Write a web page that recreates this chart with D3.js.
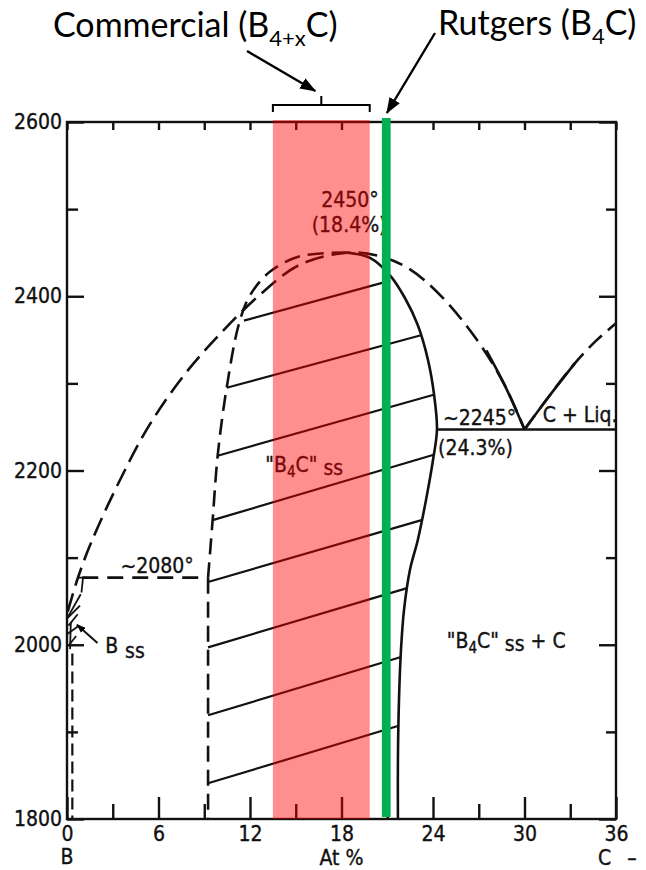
<!doctype html>
<html>
<head>
<meta charset="utf-8">
<title>B-C phase diagram</title>
<script src="https://d3js.org/d3.v7.min.js"></script>
<style>
  body { margin: 0; background: #fff; }
  .lbl { font-family: 'DejaVu Sans Condensed', 'Liberation Sans', sans-serif; font-size: 21px; fill: #111; stroke: #111; stroke-width: 0.35; }
  .note { font-family: Lato, 'Open Sans', sans-serif; font-size: 34px; fill: #000; }
  .axis text { font-family: 'DejaVu Sans Condensed', 'Liberation Sans', sans-serif; font-size: 21px; fill: #111; stroke: #111; stroke-width: 0.35; }
  .axis line { stroke: #111; stroke-width: 2.4; }
</style>
</head>
<body>
<svg id="chart" width="646" height="870"></svg>
<script>
// ---- data (at% C, temperature) ----
var xTicks = [0, 3, 6, 9, 12, 15, 18, 21, 24, 27, 30, 33, 36];
var xTickLabels = [0, 6, 12, 18, 24, 30, 36];
var yTicks = [1800, 1900, 2000, 2100, 2200, 2300, 2400, 2500, 2600];
var yTickLabels = [1800, 2000, 2200, 2400, 2600];

// liquidus, B side up to the eutectic
var liquidusLeft = [[0.05, 2038], [0.7, 2076], [1.6, 2118], [3.5, 2190], [5.4, 2252], [7.7, 2310],
  [10, 2356], [12.6, 2401], [15.25, 2436], [18.4, 2450], [20.5, 2446], [22.4, 2432],
  [24.6, 2399], [27, 2347], [28.7, 2298], [30, 2247]];
var liquidusLeftSolid = [[27.5, 2338], [28.7, 2298], [30, 2247]];
// liquidus, C side
var liquidusRight = [[30, 2247], [31.6, 2285], [33.3, 2323], [34.7, 2349], [36, 2369]];
var liquidusRightSolid = [[30, 2247], [31.6, 2285], [33.3, 2323]];
// B4C ss boundary, B rich side (dashed)
var ssLeft = [[18.4, 2450], [15.3, 2446], [13.3, 2428], [12.0, 2401], [11.3, 2370], [10.47, 2295],
  [9.88, 2217], [9.55, 2143], [9.25, 2077]];
var ssLeftLow = [[9.25, 2077], [9.25, 1800]];
// B4C ss boundary, C rich side (solid)
var ssRight = [[18.4, 2450], [19.87, 2444], [21.18, 2424], [22.16, 2398], [23.0, 2367], [23.67, 2327],
  [24.07, 2287], [24.26, 2247], [24.0, 2212], [23.54, 2166], [23.0, 2120], [22.49, 2086],
  [22.1, 2040], [21.9, 1994], [21.77, 1937], [21.7, 1868], [21.7, 1800]];
// tie lines [x1, t1, x2, t2]
var tieLines = [[11.6, 2372, 21.2, 2418], [10.47, 2295, 23.15, 2355], [9.88, 2217, 24.05, 2287],
  [9.55, 2143, 24.05, 2218], [9.25, 2072, 23.25, 2143], [9.25, 1997, 22.3, 2065],
  [9.25, 1919, 21.9, 1986], [9.25, 1841, 21.75, 1907]];
// horizontal at ~2080
var line2080 = [[1.0, 2077], [9.25, 2077]];
var eutectic = [[24.26, 2247], [36, 2247]];
// B solid solution region scribbles
var bssLines = [
  [[0.75, 2077], [1.3, 2077]],
  [[1.05, 2077], [0.95, 2060]],
  [[0.0, 2030], [0.9, 2058]],
  [[0.0, 2030], [0.85, 2045]],
  [[0.1, 2022], [0.7, 2035]],
  [[0.0, 2012], [0.8, 2022]],
  [[0.15, 2000], [0.6, 2010]],
  [[0.2, 1995], [0.25, 2025]]
];
var bssSolvus = [[0.35, 1990], [0.35, 1800]];

// composition bands
var commercialBand = [13.5, 19.85];
var rutgersBand = [20.65, 21.22];

var svg = d3.select("#chart");
var x = d3.scaleLinear().domain([0, 36]).range([67, 616]);
var y = d3.scaleLinear().domain([1800, 2600]).range([819, 122]);

var line = d3.line().x(d => x(d[0])).y(d => y(d[1]));
var smooth = d3.line().x(d => x(d[0])).y(d => y(d[1])).curve(d3.curveCatmullRom.alpha(0.5));

var g = svg.append("g");

function drawPath(pts, gen, dash, w) {
  g.append("path").datum(pts).attr("d", gen)
    .attr("fill", "none").attr("stroke", "#111")
    .attr("stroke-width", w || 2.6)
    .attr("stroke-dasharray", dash || null);
}

drawPath(liquidusLeft, smooth, "19,8");
drawPath(liquidusLeftSolid, smooth);
drawPath(liquidusRight, smooth, "18,8");
drawPath(liquidusRightSolid, smooth);
drawPath(ssLeft, smooth, "16,8");
drawPath(ssLeftLow, line, "16,8");
drawPath(ssRight, smooth);
drawPath(line2080, line, "16,9");
drawPath(eutectic, line);
drawPath(bssSolvus, line, "12,6", 2.2);
bssLines.forEach(function(l) { drawPath(l, line, null, 1.8); });

g.selectAll(".tie").data(tieLines).enter().append("line")
  .attr("x1", d => x(d[0])).attr("y1", d => y(d[1]))
  .attr("x2", d => x(d[2])).attr("y2", d => y(d[3]))
  .attr("stroke", "#111").attr("stroke-width", 2.2);

// axes
var axBottom = svg.append("g").attr("class", "axis").attr("transform", "translate(0," + y(1800) + ")")
  .call(d3.axisBottom(x).tickValues(xTicks).tickSize(0).tickPadding(7)
    .tickFormat(d => xTickLabels.indexOf(d) >= 0 ? d : ""));
axBottom.selectAll(".tick line").attr("y2", d => xTickLabels.indexOf(d) >= 0 ? -22 : -15);
axBottom.select(".domain").remove();

var axTop = svg.append("g").attr("class", "axis").attr("transform", "translate(0," + y(2600) + ")")
  .call(d3.axisTop(x).tickValues(xTicks).tickSize(-8).tickFormat(""));
axTop.select(".domain").remove();

var axLeft = svg.append("g").attr("class", "axis").attr("transform", "translate(" + x(0) + ",0)")
  .call(d3.axisLeft(y).tickValues(yTicks).tickSize(0).tickPadding(5)
    .tickFormat(d => yTickLabels.indexOf(d) >= 0 ? d : ""));
axLeft.selectAll(".tick line").attr("x2", d => yTickLabels.indexOf(d) >= 0 ? 17 : 11);
axLeft.select(".domain").remove();

var axRight = svg.append("g").attr("class", "axis").attr("transform", "translate(" + x(36) + ",0)")
  .call(d3.axisRight(y).tickValues(yTicks).tickSize(0).tickFormat(""));
axRight.selectAll(".tick line").attr("x2", d => yTickLabels.indexOf(d) >= 0 ? -17 : -10);
axRight.select(".domain").remove();

svg.append("rect")
  .attr("x", x(0)).attr("y", y(2600)).attr("width", x(36) - x(0)).attr("height", y(1800) - y(2600))
  .attr("fill", "none").attr("stroke", "#111").attr("stroke-width", 2.4);

// axis extra labels
svg.append("text").attr("class", "lbl").attr("x", x(0)).attr("y", 864).attr("text-anchor", "middle").text("B");
svg.append("text").attr("class", "lbl").attr("x", x(18)).attr("y", 865).attr("text-anchor", "middle").text("At %");
var ct = svg.append("text").attr("class", "lbl").attr("x", 598).attr("y", 865);
ct.append("tspan").text("C");
ct.append("tspan").attr("dx", 16).text("–");

// in-plot labels
function lbl(xv, yv, txt, anchor) {
  return svg.append("text").attr("class", "lbl").attr("x", x(xv)).attr("y", y(yv))
    .attr("text-anchor", anchor || "start").text(txt);
}
lbl(18.55, 2502, "2450°", "middle");
lbl(18.5, 2474, "(18.4%)", "middle");
lbl(3.5, 2082, "~2080°");
lbl(24.65, 2252, "~2245°");
lbl(24.33, 2218, "(24.3%)");
lbl(31.2, 2256, "C + Liq.");

function b4c(xv, yv, extra) {
  var t = svg.append("text").attr("class", "lbl").attr("x", x(xv)).attr("y", y(yv));
  t.append("tspan").text("\"B");
  t.append("tspan").attr("font-size", "15px").attr("dy", 5).text("4");
  t.append("tspan").attr("dy", -5).text("C\"");
  t.append("tspan").attr("dy", 3).text(" ss");
  if (extra) t.append("tspan").attr("dy", -3).text(extra);
}
b4c(13.0, 2198);
b4c(24.9, 1996, " + C");

var bl = svg.append("text").attr("class", "lbl").attr("x", x(2.5)).attr("y", y(1990));
bl.append("tspan").text("B");
bl.append("tspan").attr("dx", 7).attr("dy", 5).text("ss");

// arrow markers
var defs = svg.append("defs");
defs.append("marker").attr("id", "ah").attr("markerUnits", "userSpaceOnUse")
  .attr("viewBox", "0 0 16 12").attr("markerWidth", 16).attr("markerHeight", 12)
  .attr("refX", 15).attr("refY", 6).attr("orient", "auto")
  .append("path").attr("d", "M0,0 L16,6 L0,12 Z").attr("fill", "#000");
defs.append("marker").attr("id", "ahs").attr("markerUnits", "userSpaceOnUse")
  .attr("viewBox", "0 0 16 12").attr("markerWidth", 9).attr("markerHeight", 7)
  .attr("refX", 15).attr("refY", 6).attr("orient", "auto")
  .append("path").attr("d", "M0,0 L16,6 L0,12 Z").attr("fill", "#000");

svg.append("line").attr("x1", x(2.0)).attr("y1", y(2002)).attr("x2", x(0.65)).attr("y2", y(2023))
  .attr("stroke", "#111").attr("stroke-width", 2).attr("marker-end", "url(#ahs)");

// overlays
svg.append("rect").attr("x", x(commercialBand[0])).attr("y", y(2600) - 2)
  .attr("width", x(commercialBand[1]) - x(commercialBand[0])).attr("height", y(1800) - y(2600) + 2)
  .attr("fill", "rgb(255,0,0)").attr("fill-opacity", 0.44);
svg.append("rect").attr("x", x(rutgersBand[0])).attr("y", y(2600) - 4)
  .attr("width", x(rutgersBand[1]) - x(rutgersBand[0])).attr("height", y(1800) - y(2600) + 2)
  .attr("fill", "#00b050");

// bracket for commercial range
var bx0 = x(commercialBand[0]), bx1 = x(commercialBand[1]), bym = (bx0 + bx1) / 2;
svg.append("path")
  .attr("d", "M" + bx0 + "," + (y(2600) - 10) + " v-7 H" + bx1 + " v7 M" + bym + "," + (y(2600) - 17) + " v-9")
  .attr("fill", "none").attr("stroke", "#000").attr("stroke-width", 2);

// callouts
var c1 = svg.append("text").attr("class", "note").attr("x", 53).attr("y", 37);
c1.append("tspan").text("Commercial (B");
c1.append("tspan").attr("font-size", "22px").attr("dy", 9).text("4+x");
c1.append("tspan").attr("dy", -9).text("C)");
var c2 = svg.append("text").attr("class", "note").attr("x", 438).attr("y", 35);
c2.append("tspan").text("Rutgers (B");
c2.append("tspan").attr("font-size", "22px").attr("dy", 9).text("4");
c2.append("tspan").attr("dy", -9).text("C)");

svg.append("line").attr("x1", 247).attr("y1", 51).attr("x2", bym - 6).attr("y2", y(2600) - 31)
  .attr("stroke", "#000").attr("stroke-width", 2.4).attr("marker-end", "url(#ah)");
svg.append("line").attr("x1", 435).attr("y1", 33).attr("x2", x(rutgersBand[0]) + 5).attr("y2", y(2600) - 9)
  .attr("stroke", "#000").attr("stroke-width", 2.4).attr("marker-end", "url(#ah)");
</script>
</body>
</html>
